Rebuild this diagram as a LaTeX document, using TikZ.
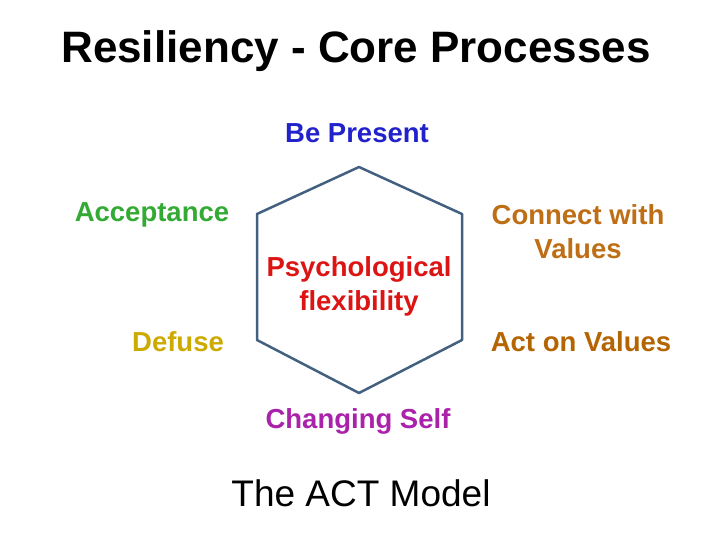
\documentclass[tikz,border=0pt]{standalone}
\usepackage{fontspec}
\setmainfont{Liberation Sans}
\definecolor{hexline}{RGB}{68,96,128}
\definecolor{bepresent}{RGB}{34,34,204}
\definecolor{accept}{RGB}{51,170,51}
\definecolor{connect}{RGB}{190,110,20}
\definecolor{psych}{RGB}{220,20,20}
\definecolor{defuse}{RGB}{204,170,0}
\definecolor{actval}{RGB}{180,100,0}
\definecolor{changing}{RGB}{170,34,170}
\tikzset{lbl/.style={font=\bfseries\fontsize{27.5}{34}\selectfont, align=center, inner sep=0pt}}
\begin{document}
\begin{tikzpicture}[x=1pt,y=-1pt]
\useasboundingbox (0,0) rectangle (720,540);
\coordinate (t) at (359,167);
\coordinate (ur) at (462,214);
\coordinate (lr) at (462,340);
\coordinate (b) at (359,393);
\coordinate (ll) at (257,340);
\coordinate (ul) at (257,214);
\draw[hexline, line width=2.5pt, line join=round] (t)--(ur)--(lr)--(b)--(ll)--(ul)--cycle;
\node[font=\bfseries\fontsize{44}{46}\selectfont, inner sep=0pt] (title) at (356,51) {Resiliency - Core Processes};
\node[lbl, bepresent] (be) at (357,133) {Be Present};
\node[lbl, accept] (acc) at (152,215) {Acceptance};
\node[lbl, connect] (con) at (578,232) {Connect with\\Values};
\node[lbl, psych] (psy) at (359,286) {Psychological\\flexibility};
\node[lbl, defuse] (def) at (178,342) {Defuse};
\node[lbl, actval] (act) at (581,342) {Act on Values};
\node[lbl, changing] (chg) at (358,421) {Changing Self};
\node[font=\fontsize{37}{40}\selectfont, inner sep=0pt] (model) at (361,493) {The ACT Model};
\end{tikzpicture}
\end{document}
